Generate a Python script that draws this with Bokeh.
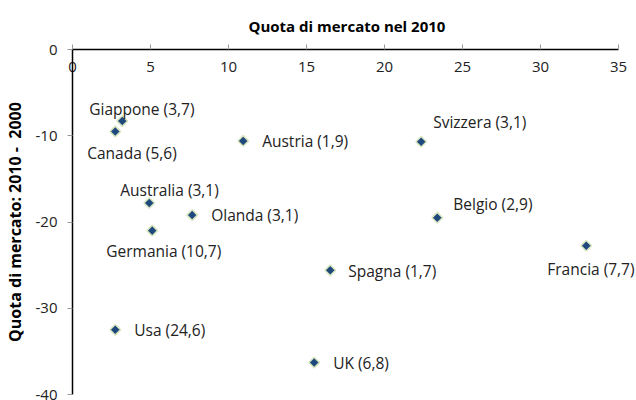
import math
from bokeh.plotting import figure
from bokeh.models import Range1d, LinearAxis, FixedTicker, ColumnDataSource, LabelSet, PrintfTickFormatter
from bokeh.core.properties import value
from bokeh.embed import file_html
from bokeh.resources import INLINE

# Data
countries = ["Giappone", "Canada", "Austria", "Svizzera", "Australia", "Olanda",
             "Germania", "Belgio", "Francia", "Spagna", "Usa", "UK"]
share_2010 = [3.19, 2.74, 10.94, 22.35, 4.92, 7.67, 5.11, 23.38, 32.93, 16.52, 2.74, 15.49]
share_change = [-8.3, -9.5, -10.6, -10.7, -17.8, -19.2, -21.0, -19.5, -22.75, -25.6, -32.5, -36.3]
weights = ["3,7", "5,6", "1,9", "3,1", "3,1", "3,1", "10,7", "2,9", "7,7", "1,7", "24,6", "6,8"]
x_ticks = [0, 5, 10, 15, 20, 25, 30, 35]
y_ticks = [0, -10, -20, -30, -40]

# label placement (pixels)
label_dx = [-33, -28, 19, 12, -29, 19, -46, 16, -39, 18, 19, 19]
label_dy = [12, -22, 0, 20, 13, 0, -20, 14, -23, -1, 0, 0]

labels = [f"{c} ({w})" for c, w in zip(countries, weights)]
src = ColumnDataSource(dict(x=share_2010, y=share_change, label=labels, dx=label_dx, dy=label_dy))

FONT = "Open Sans"
# frame extends to the right edge so labels are not clipped; axis line stops at 35
p = figure(width=636, height=400, output_backend="svg", toolbar_location=None,
           x_range=Range1d(0, 36.15), y_range=Range1d(-40, 0),
           min_border_left=72, min_border_right=0, min_border_top=46, min_border_bottom=6,
           x_axis_location=None, y_axis_location=None)
p.grid.visible = False
p.outline_line_color = None
p.background_fill_color = "white"
p.border_fill_color = "white"

p.title.text = "Quota di mercato nel 2010"
p.title.align = "left"
p.title.offset = 176
p.title.text_font = FONT
p.title.text_font_size = "15px"
p.title.text_font_style = "bold"
p.title.text_color = "#000000"
p.title.standoff = 27

xa = LinearAxis(ticker=FixedTicker(ticks=x_ticks), bounds=(0, 35))
xa.axis_line_color = "black"
xa.axis_line_width = 1.5
xa.major_tick_out = 5
xa.major_tick_in = 0
xa.major_tick_line_color = "#999999"
xa.minor_tick_line_color = None
xa.major_label_text_font = FONT
xa.major_label_text_font_size = "15px"
xa.major_label_text_color = "#222222"
xa.major_label_standoff = -27
p.add_layout(xa, "above")

ya = LinearAxis(ticker=FixedTicker(ticks=y_ticks), formatter=PrintfTickFormatter(format="%d"))
ya.axis_line_color = "black"
ya.axis_line_width = 1.5
ya.major_tick_out = 5
ya.major_tick_in = 0
ya.major_tick_line_color = "#999999"
ya.minor_tick_line_color = None
ya.major_label_text_font = FONT
ya.major_label_text_font_size = "15px"
ya.major_label_text_color = "#222222"
ya.major_label_standoff = 10
ya.axis_label = "Quota di mercato: 2010 -\u00a0 2000"
ya.axis_label_text_font = FONT
ya.axis_label_text_font_size = "16px"
ya.axis_label_text_font_style = "bold"
ya.axis_label_text_color = "#000000"
ya.axis_label_standoff = 7
p.add_layout(ya, "left")

p.scatter("x", "y", source=src, marker="square", size=7.5, angle=math.pi / 4,
          fill_color="#1F497D", line_color="#D7E4BD", line_width=1.5)

ls = LabelSet(x="x", y="y", text="label", x_offset="dx", y_offset="dy", source=src,
              text_font=value(FONT), text_font_size=value("15.5px"), text_color="#222222",
              text_align="left", text_baseline="middle")
p.add_layout(ls)

open("out.html", "w").write(file_html(p, INLINE))
